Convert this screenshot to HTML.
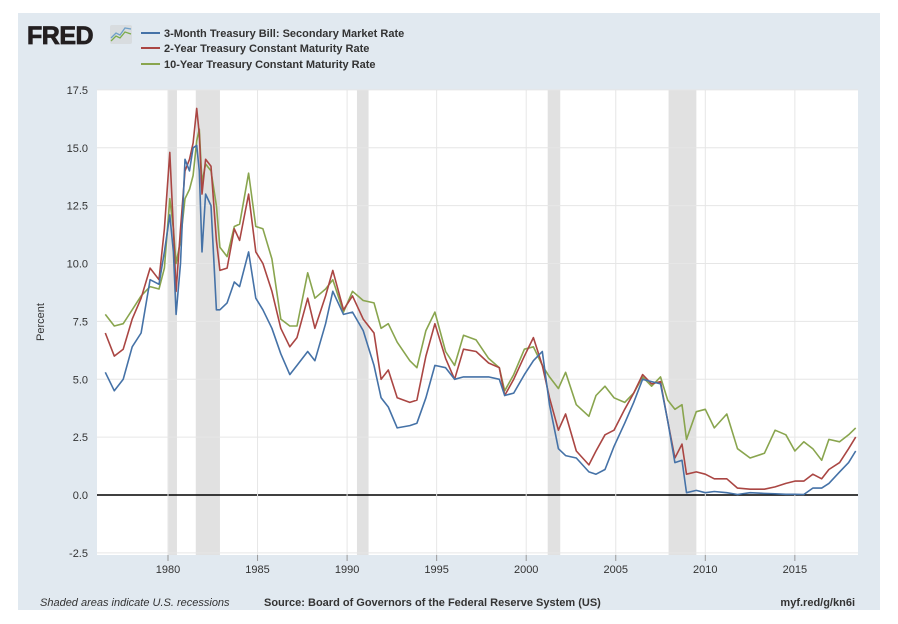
<!DOCTYPE html>
<html><head><meta charset="utf-8">
<style>
body{margin:0;width:898px;height:624px;background:#ffffff;font-family:"Liberation Sans",sans-serif;overflow:hidden}
svg{position:absolute;left:0;top:0}
</style></head>
<body>
<svg width="898" height="624">
<rect x="18" y="13" width="862" height="597" fill="#e1e9f0"/>
<rect id="plot" x="97" y="90" width="761" height="465" fill="#ffffff"/>
<g id="rec"></g>
<g id="grid"></g>
<g id="series"></g>
<g id="axes"></g>
<text x="27" y="44" font-size="25" font-weight="bold" fill="#231f20" letter-spacing="-0.5" stroke="#231f20" stroke-width="0.8">FRED</text>
<g>
<rect x="110" y="25" width="22" height="19" rx="2" fill="#d8dcdf"/>
<polyline points="111,41 116,36 120,38 125,32 131,34" fill="none" stroke="#7aab4a" stroke-width="1.3"/>
<polyline points="111,38 116,33 120,35 125,28 131,29" fill="none" stroke="#6fa0c8" stroke-width="1.3"/>
</g>
<g font-size="11" fill="#333" font-weight="bold">
<line x1="141" y1="33" x2="160" y2="33" stroke="#4572a7" stroke-width="2"/>
<text x="164" y="37">3-Month Treasury Bill: Secondary Market Rate</text>
<line x1="141" y1="48" x2="160" y2="48" stroke="#aa4643" stroke-width="2"/>
<text x="164" y="52">2-Year Treasury Constant Maturity Rate</text>
<line x1="141" y1="64" x2="160" y2="64" stroke="#89a54e" stroke-width="2"/>
<text x="164" y="68">10-Year Treasury Constant Maturity Rate</text>
</g>
<text transform="translate(44,322) rotate(-90)" text-anchor="middle" font-size="11" fill="#333">Percent</text>
<text x="40" y="606" font-size="11" font-style="italic" fill="#333">Shaded areas indicate U.S. recessions</text>
<text x="264" y="606" font-size="11" font-weight="bold" fill="#333">Source: Board of Governors of the Federal Reserve System (US)</text>
<text x="855" y="606" text-anchor="end" font-size="11" font-weight="bold" fill="#333">myf.red/g/kn6i</text>
</svg>
<script>
const years=[1976.5,1977.0,1977.5,1978.0,1978.5,1979.0,1979.5,1979.8,1980.1,1980.3,1980.45,1980.7,1980.95,1981.2,1981.4,1981.6,1981.75,1981.9,1982.1,1982.4,1982.7,1982.9,1983.3,1983.7,1984.0,1984.5,1984.9,1985.3,1985.8,1986.3,1986.8,1987.2,1987.8,1988.2,1988.8,1989.2,1989.8,1990.3,1990.9,1991.5,1991.9,1992.3,1992.8,1993.5,1993.9,1994.4,1994.9,1995.5,1996.0,1996.5,1997.2,1997.9,1998.5,1998.8,1999.3,1999.9,2000.4,2000.9,2001.3,2001.8,2002.2,2002.8,2003.5,2003.9,2004.4,2004.9,2005.5,2006.0,2006.5,2007.0,2007.5,2007.9,2008.3,2008.7,2008.95,2009.5,2010.0,2010.5,2011.2,2011.8,2012.5,2013.3,2013.9,2014.5,2015.0,2015.5,2016.0,2016.5,2016.9,2017.5,2018.0,2018.4];
const tb3=[5.3,4.5,5.0,6.4,7.0,9.3,9.1,10.5,12.1,10.5,7.8,10.0,14.5,14.0,15.0,15.1,14.0,10.5,13.0,12.5,8.0,8.0,8.3,9.2,9.0,10.5,8.5,8.0,7.2,6.1,5.2,5.6,6.2,5.8,7.4,8.8,7.8,7.9,7.1,5.6,4.2,3.8,2.9,3.0,3.1,4.2,5.6,5.5,5.0,5.1,5.1,5.1,5.0,4.3,4.4,5.2,5.8,6.2,3.9,2.0,1.7,1.6,1.0,0.9,1.1,2.1,3.1,4.0,5.0,4.9,4.8,3.2,1.4,1.5,0.1,0.2,0.1,0.15,0.1,0.02,0.1,0.07,0.05,0.03,0.03,0.02,0.3,0.3,0.5,1.0,1.4,1.9];
const gs2=[7.0,6.0,6.3,7.6,8.5,9.8,9.3,11.5,14.8,11.5,8.8,11.5,14.0,14.5,15.2,16.7,15.6,13.0,14.5,14.2,11.0,9.7,9.8,11.5,11.0,13.0,10.5,10.0,8.8,7.2,6.4,6.8,8.5,7.2,8.6,9.7,8.0,8.6,7.6,7.0,5.0,5.4,4.2,4.0,4.1,6.0,7.4,5.9,5.0,6.3,6.2,5.7,5.5,4.3,5.0,6.0,6.8,5.6,4.2,2.8,3.5,1.9,1.3,1.9,2.6,2.8,3.7,4.4,5.2,4.8,4.9,3.2,1.6,2.2,0.9,1.0,0.9,0.7,0.7,0.3,0.25,0.25,0.35,0.5,0.6,0.6,0.9,0.7,1.1,1.4,2.0,2.5];
const gs10=[7.8,7.3,7.4,8.0,8.6,9.0,8.9,9.8,12.8,11.5,10.0,11.0,12.8,13.2,13.8,15.3,15.8,13.5,14.3,14.0,12.5,10.7,10.3,11.6,11.7,13.9,11.6,11.5,10.2,7.6,7.3,7.3,9.6,8.5,8.9,9.3,7.9,8.8,8.4,8.3,7.2,7.4,6.6,5.8,5.5,7.1,7.9,6.2,5.6,6.9,6.7,5.9,5.5,4.5,5.2,6.3,6.4,5.6,5.1,4.6,5.3,3.9,3.4,4.3,4.7,4.2,4.0,4.4,5.1,4.7,5.1,4.1,3.7,3.9,2.4,3.6,3.7,2.9,3.5,2.0,1.6,1.8,2.8,2.6,1.9,2.3,2.0,1.5,2.4,2.3,2.6,2.9];
const recStart=[1980.0,1981.55,1990.55,2001.2,2007.95];
const recEnd=[1980.5,1982.9,1991.2,2001.9,2009.5];
const yTicks=[-2.5,0,2.5,5,7.5,10,12.5,15,17.5];
const xTicks=[1980,1985,1990,1995,2000,2005,2010,2015];
const NS="http://www.w3.org/2000/svg";
const X=y=>168+(y-1980)*17.91;
const Y=v=>495-v*23.15;
function mk(tag,attrs,parent){const e=document.createElementNS(NS,tag);for(const k in attrs)e.setAttribute(k,attrs[k]);document.getElementById(parent).appendChild(e);return e;}
recStart.forEach((s,i)=>{const r=mk('rect',{x:X(s),y:90,width:X(recEnd[i])-X(s),height:465,fill:'#e1e1e1'},'rec');

});
yTicks.forEach(t=>{const l=mk('line',{x1:97,x2:858,y1:Y(t),y2:Y(t),stroke:t===0?'#000':'#e6e6e6','stroke-width':t===0?1.5:1},'grid');


const tx=mk('text',{x:88,y:Y(t)+4,'text-anchor':'end','font-size':11,fill:'#333'},'axes');tx.textContent=t.toFixed(1);

});
xTicks.forEach(t=>{const l=mk('line',{x1:X(t),x2:X(t),y1:90,y2:555,stroke:'#e6e6e6'},'grid');


const tk=mk('line',{x1:X(t),x2:X(t),y1:555,y2:561,stroke:'#999'},'axes');


const tx=mk('text',{x:X(t),y:573,'text-anchor':'middle','font-size':11,fill:'#333'},'axes');tx.textContent=t;

});
[[gs10,'#89a54e','line-gs10'],[gs2,'#aa4643','line-gs2'],[tb3,'#4572a7','line-tb3']].forEach(([d,c,n])=>{
const p=mk('polyline',{points:d.map((v,i)=>X(years[i]).toFixed(1)+','+Y(v).toFixed(1)).join(' '),fill:'none',stroke:c,'stroke-width':1.6,'stroke-linejoin':'round'},'series');

});
</script>
</body></html>
